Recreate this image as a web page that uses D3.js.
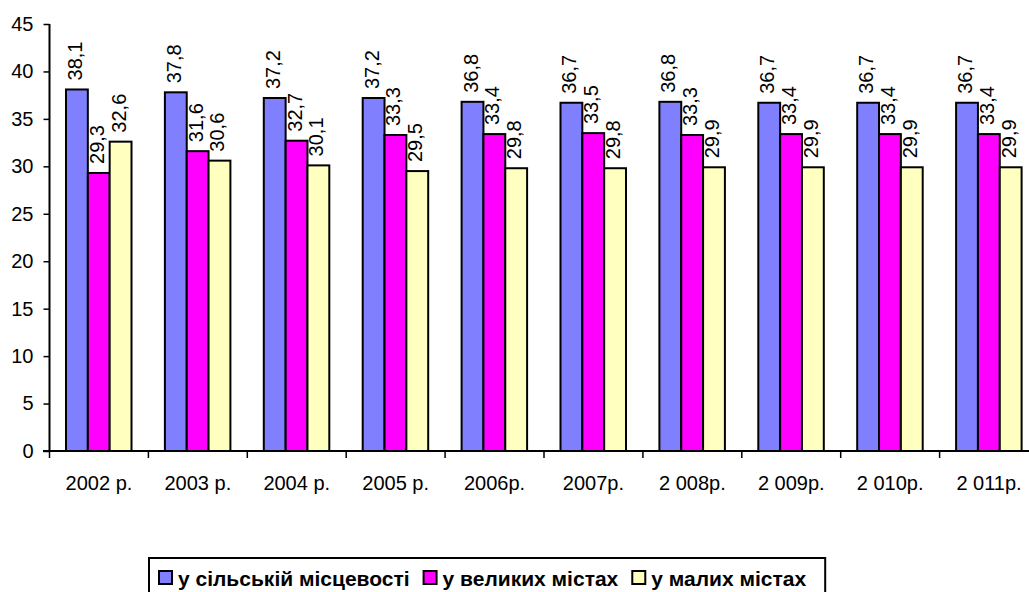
<!DOCTYPE html>
<html>
<head>
<meta charset="utf-8">
<script src="https://cdn.jsdelivr.net/npm/d3@7"></script>
<style>
  body { margin: 0; background: #fff; overflow: hidden; }
  svg { display: block; }
  text { font-family: Arial, "Liberation Sans", sans-serif; }
</style>
</head>
<body>
<div id="chart"></div>
<script>
// data
var categories = ["2002 р.", "2003 р.", "2004 р.", "2005 р.", "2006р.", "2007р.", "2 008р.", "2 009р.", "2 010р.", "2 011р."];
var seriesNames = ["у сільській місцевості", "у великих містах", "у малих містах"];
var rural = [38.1, 37.8, 37.2, 37.2, 36.8, 36.7, 36.8, 36.7, 36.7, 36.7];
var bigCities = [29.3, 31.6, 32.7, 33.3, 33.4, 33.5, 33.3, 33.4, 33.4, 33.4];
var smallCities = [32.6, 30.6, 30.1, 29.5, 29.8, 29.8, 29.9, 29.9, 29.9, 29.9];
var yTicks = [0, 5, 10, 15, 20, 25, 30, 35, 40, 45];
var colors = ["#8080FF", "#FF00FF", "#FFFFC0"];

var width = 1029, height = 592;
var series = [rural, bigCities, smallCities];

var svg = d3.select("#chart").append("svg")
  .attr("width", width)
  .attr("height", height);

var x0 = d3.scaleBand().domain(categories).range([49.5, 1038.5]).padding(0);
var x1 = d3.scaleBand().domain(d3.range(3)).range([16.5, 82]).padding(0);
var y = d3.scaleLinear().domain([0, 45]).range([451, 24]);

// bars
var groups = svg.selectAll("g.grp")
  .data(categories)
  .enter().append("g")
  .attr("class", "grp")
  .attr("transform", function(d) { return "translate(" + x0(d) + ",0)"; });

groups.each(function(cat, ci) {
  var g = d3.select(this);
  series.forEach(function(s, si) {
    g.append("rect")
      .attr("x", x1(si))
      .attr("y", y(s[ci]))
      .attr("width", x1.bandwidth())
      .attr("height", y(0) - y(s[ci]))
      .attr("fill", colors[si])
      .attr("stroke", "#000")
      .attr("stroke-width", 2);
    var lx = x1(si) + x1.bandwidth() / 2 - 2;
    var ly = y(s[ci]) - 9;
    g.append("text")
      .attr("transform", "translate(" + lx + "," + ly + ") rotate(-90)")
      .attr("dy", "0.35em")
      .attr("font-size", "20px")
      .attr("fill", "#000")
      .text(String(s[ci]).replace(".", ","));
  });
});

// y axis
var yAxis = svg.append("g")
  .attr("transform", "translate(49.5,0)")
  .call(d3.axisLeft(y).tickValues(yTicks).tickSize(6).tickPadding(10));
yAxis.selectAll("text").attr("font-size", "20px").attr("fill", "#000").style("font-family", "Arial, 'Liberation Sans', sans-serif");
yAxis.selectAll("line").attr("stroke", "#000").attr("stroke-width", 1.5);
yAxis.select(".domain").attr("stroke", "#000").attr("stroke-width", 2).attr("d", "M0," + y(0) + "V" + y(45));

// x axis: line plus ticks at category boundaries
svg.append("line")
  .attr("x1", 43).attr("x2", width)
  .attr("y1", y(0)).attr("y2", y(0))
  .attr("stroke", "#000").attr("stroke-width", 2);
svg.selectAll("line.xtick")
  .data(categories)
  .enter().append("line")
  .attr("class", "xtick")
  .attr("x1", function(d) { return x0(d); })
  .attr("x2", function(d) { return x0(d); })
  .attr("y1", y(0)).attr("y2", y(0) + 7)
  .attr("stroke", "#000").attr("stroke-width", 1.5);
svg.selectAll("text.xlab")
  .data(categories)
  .enter().append("text")
  .attr("class", "xlab")
  .attr("x", function(d) { return x0(d) + x0.bandwidth() / 2; })
  .attr("y", 483)
  .attr("dy", "0.35em")
  .attr("text-anchor", "middle")
  .attr("font-size", "20px")
  .attr("fill", "#000")
  .text(function(d) { return d; });

// legend
var legend = svg.append("g");
var lx = 159, ly = 579;
var items = legend.selectAll("g.item")
  .data(seriesNames)
  .enter().append("g")
  .attr("class", "item");
items.append("rect")
  .attr("width", 13).attr("height", 13)
  .attr("y", ly - 8)
  .attr("fill", function(d, i) { return colors[i]; })
  .attr("stroke", "#000").attr("stroke-width", 2);
items.append("text")
  .attr("x", 19)
  .attr("y", ly)
  .attr("dy", "0.35em")
  .attr("font-size", "21px")
  .attr("font-weight", "bold")
  .attr("fill", "#000")
  .text(function(d) { return d; });
var lastEnd = lx;
items.each(function() {
  var g = d3.select(this);
  g.attr("transform", "translate(" + lx + ",0)");
  lastEnd = lx + 19 + g.select("text").node().getComputedTextLength();
  lx = lastEnd + 14;
});
legend.insert("rect", ":first-child")
  .attr("x", 149).attr("y", 558)
  .attr("width", lastEnd - 149 + 19).attr("height", 45)
  .attr("fill", "#fff")
  .attr("stroke", "#000").attr("stroke-width", 2);
</script>
</body>
</html>
